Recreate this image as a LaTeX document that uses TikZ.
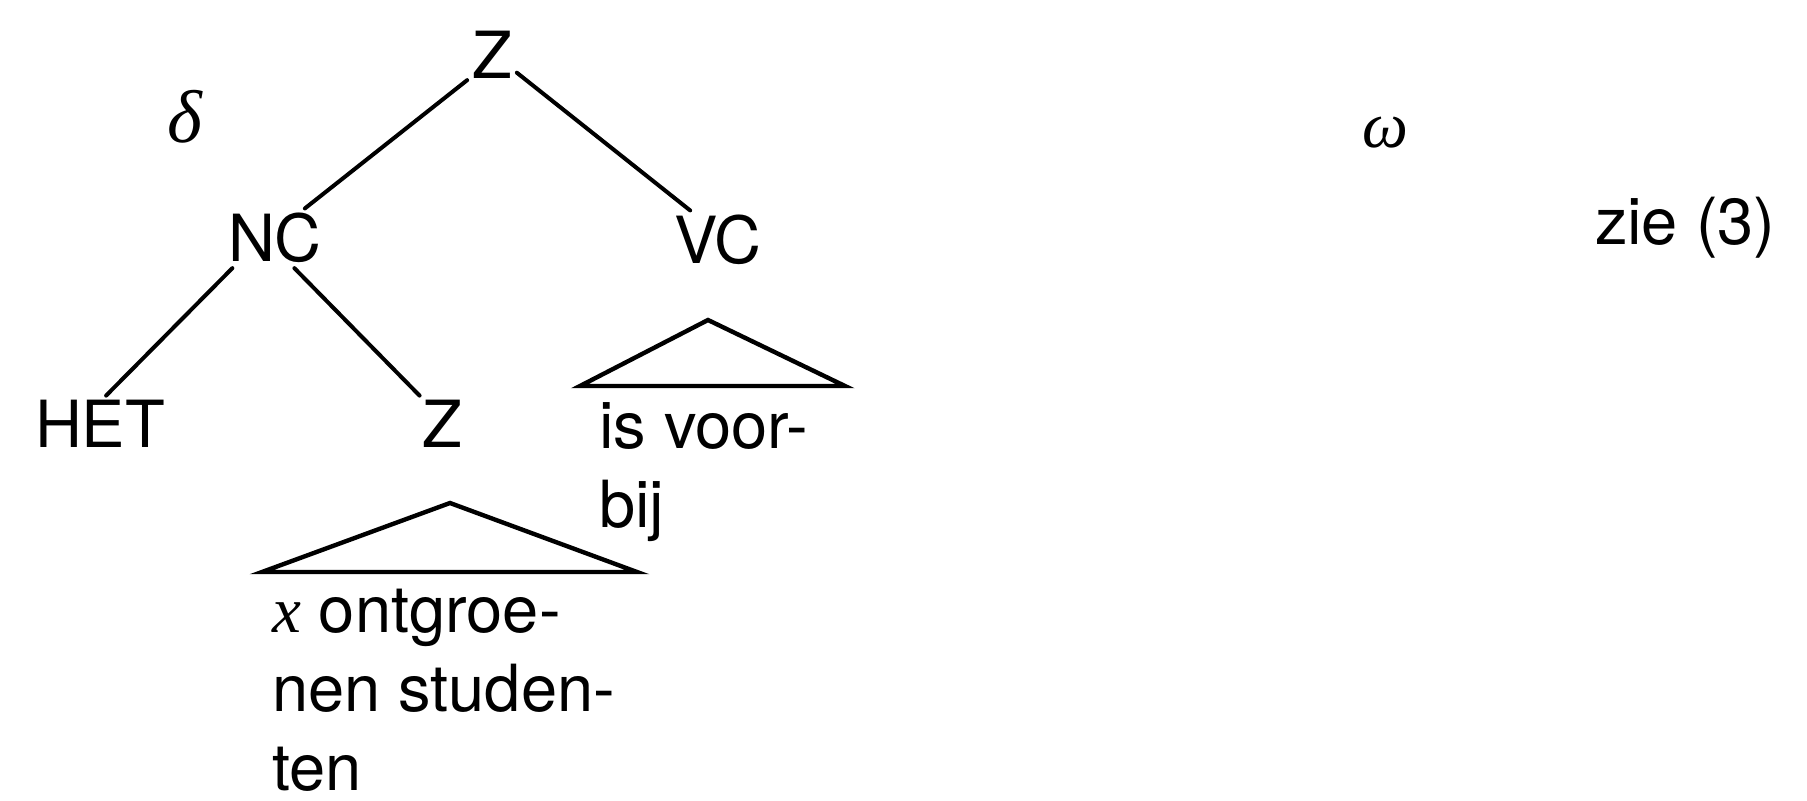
\documentclass[tikz,border=0pt]{standalone}
\usepackage{fontspec}
\setmainfont{TeX Gyre Heros}
\newfontfamily\greekfont{Liberation Serif}
\newcommand{\treefont}{\fontsize{32.5pt}{39.5pt}\selectfont}
\newcommand{\var}[1]{{\greekfont\itshape #1}}
\tikzset{
	cat/.style={anchor=base,inner sep=0pt,outer sep=2.5pt},
	words/.style={anchor=base west,align=left,inner sep=0pt},
	roof/.style={line width=2.2pt,line join=miter}
}
\begin{document}
\begin{tikzpicture}[x=.5pt,y=-.5pt,line width=2pt,line cap=round,font=\treefont]
	\useasboundingbox (0,0) rectangle (1807,801);
	% categories
	\node[cat] (top) at (492,79) {Z};
	\node[cat] (nc) at (275,262) {NC};
	\node[cat] (vc) at (718,264) {VC};
	\node[cat] (het) at (100,448) {HET};
	\node[cat] (sub) at (442,448) {Z};
	\node[cat,scale=1.15] (delta) at (185,143) {\var{δ}};
	\node[cat] (omega) at (1385,148) {\var{ω}};
	\node[anchor=base west,inner sep=0pt] (zie) at (1593,245) {zie (3)};
	% branches
	\draw (top.225)--(nc.45) (top.-35)--(vc.133);
	\draw (nc.215)--(het.78) (nc.-57)--(sub.128);
	% roofs over the terminal strings
	\coordinate (vcTop) at (708,320);
	\coordinate (vcL) at (580,386);
	\coordinate (vcR) at (845,386);
	\coordinate (subTop) at (450,503);
	\coordinate (subL) at (262,572);
	\coordinate (subR) at (637,572);
	\draw[roof] (vcL)--(vcTop)--(vcR)--cycle;
	\draw[roof] (subL)--(subTop)--(subR)--cycle;
	% base is the last line here
	\node[words] (vcwords) at (597,527) {is voor-\\bij};
	\node[words] (subwords) at (270,790) {\var{x} ontgroe-\\nen studen-\\ten};
\end{tikzpicture}
\end{document}
